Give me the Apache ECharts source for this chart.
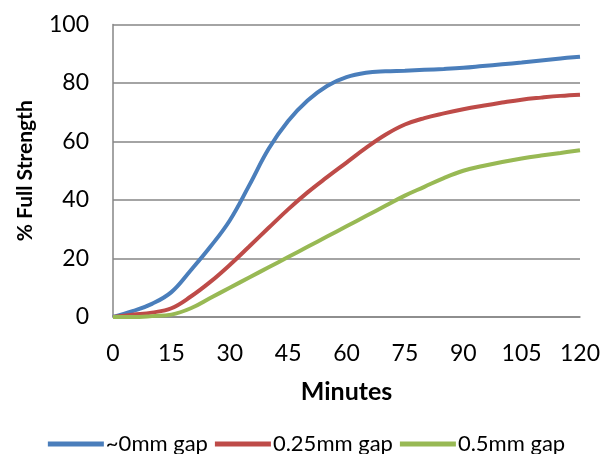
<!DOCTYPE html>
<html><head><meta charset="utf-8">
<script src="https://cdn.jsdelivr.net/npm/echarts@6/dist/echarts.min.js"></script>
<style>html,body{margin:0;padding:0;background:#fff}#c{width:613px;height:454px}</style>
</head><body><div id="c"></div>
<script>
const minutes = [0,5,10,15,20,25,30,35,40,45,50,55,60,65,70,75,80,85,90,95,100,105,110,115,120];
const gap0 = [0,2,4.5,8.5,16,24,33,45,57.5,67,74,79,82,83.5,84,84.2,84.5,84.8,85.2,85.8,86.4,87,87.7,88.4,89];
const gap025 = [0,0.8,1.5,3,7,12,17.8,24.1,30.5,36.8,42.6,47.8,52.8,57.8,62.3,65.8,68,69.6,71,72.2,73.3,74.3,75,75.6,76];
const gap05 = [0,0,0.3,0.8,3,6.5,10,13.5,17,20.5,24,27.5,31,34.5,38,41.5,44.5,47.5,50,51.6,53,54.2,55.2,56.1,57];
const seriesNames = ['~0mm gap','0.25mm gap','0.5mm gap'];
const colors = ['#4A7EBB','#BE4B48','#98B954'];
const xTicks = {min:0,max:120,interval:15};
const yTicks = {min:0,max:100,interval:20};

const font = 'Lato, "Open Sans", sans-serif';
const pair = arr => minutes.map((m,i)=>[m,arr[i]]);
const chart = echarts.init(document.getElementById('c'));
chart.setOption({
  animation:false,
  color:colors,
  grid:{left:113,right:33,top:24.5,bottom:137,containLabel:false},
  legend:{top:433,left:'center',padding:0,itemWidth:56,itemHeight:5,itemGap:7,
    icon:'rect',
    textStyle:{fontFamily:font,fontSize:22,color:'#000',padding:[0,0,0,-3]},
    data:seriesNames},
  xAxis:{type:'value',min:xTicks.min,max:xTicks.max,interval:xTicks.interval,
    name:'Minutes',nameLocation:'middle',nameGap:62,
    nameTextStyle:{fontFamily:font,fontSize:25,fontWeight:'bold',color:'#000'},
    axisLine:{lineStyle:{color:'#868686',width:1.5}},axisTick:{show:false},
    axisLabel:{margin:25,fontFamily:font,fontSize:23,color:'#000'},
    splitLine:{show:false}},
  yAxis:{type:'value',min:yTicks.min,max:yTicks.max,interval:yTicks.interval,
    name:'% Full Strength',nameLocation:'middle',nameGap:77,
    nameTextStyle:{fontFamily:font,fontSize:21,fontWeight:'bold',color:'#000'},
    axisLine:{show:true,lineStyle:{color:'#868686',width:1.5}},axisTick:{show:false},
    axisLabel:{margin:24,fontFamily:font,fontSize:23,color:'#000'},
    splitLine:{lineStyle:{color:'#868686',width:1.5}}},
  series:[gap0,gap025,gap05].map((d,i)=>({
    name:seriesNames[i],type:'line',data:pair(d),smooth:0.4,showSymbol:false,
    lineStyle:{width:4,color:colors[i]},itemStyle:{color:colors[i]}
  }))
});
</script></body></html>
